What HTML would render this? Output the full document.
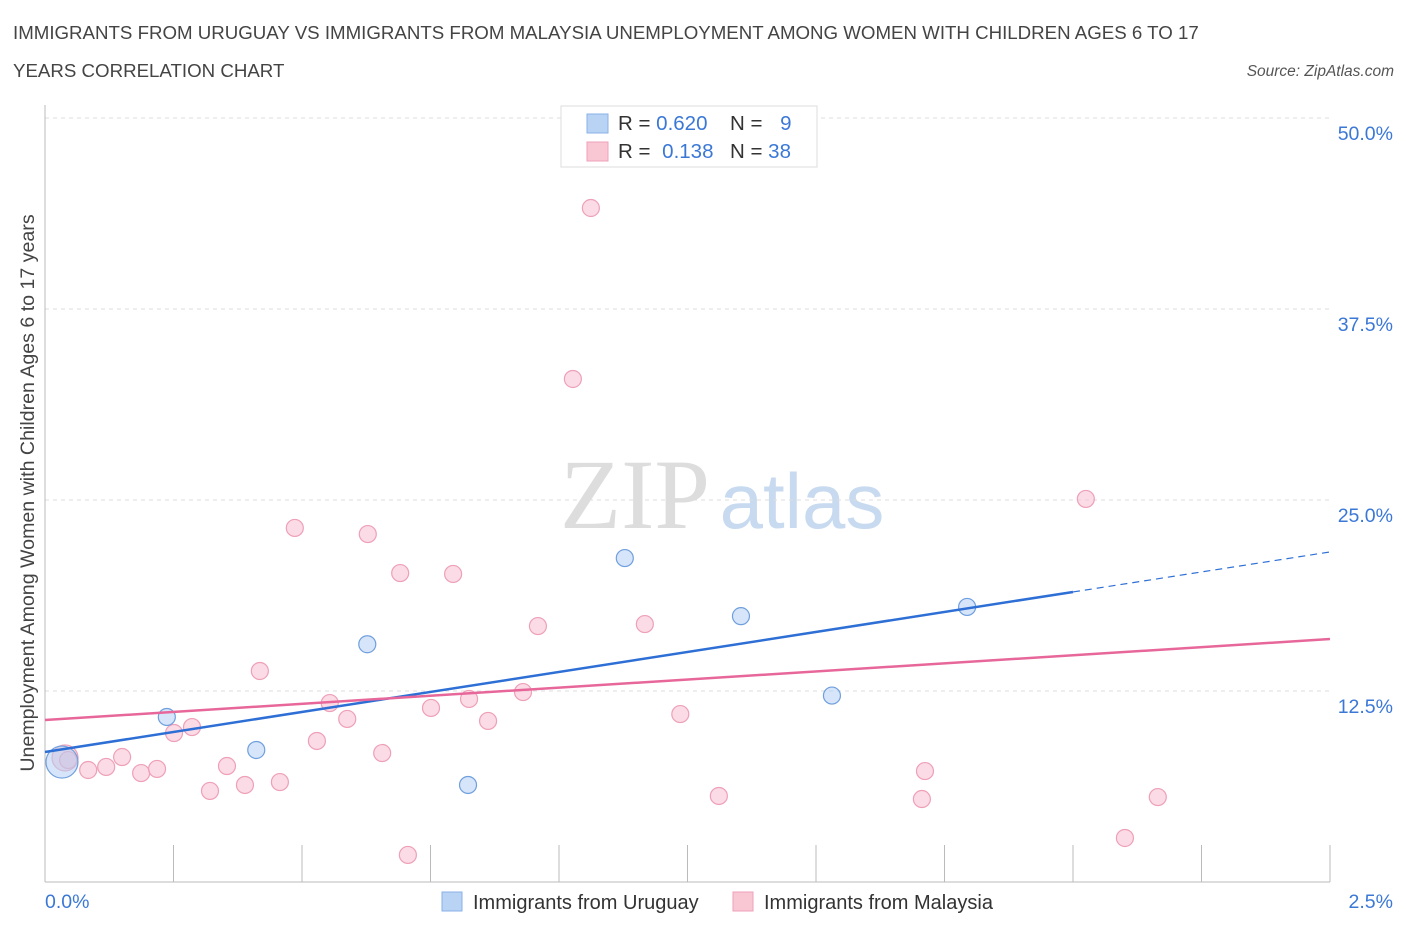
<!DOCTYPE html>
<html><head><meta charset="utf-8"><style>
body{margin:0;background:#fff;font-family:"Liberation Sans",sans-serif;}
</style></head><body>
<svg id="chart" width="1406" height="930" font-family="Liberation Sans, sans-serif">
<text x="13" y="39" font-size="18.7" fill="#444">IMMIGRANTS FROM URUGUAY VS IMMIGRANTS FROM MALAYSIA UNEMPLOYMENT AMONG WOMEN WITH CHILDREN AGES 6 TO 17</text>
<text x="13" y="77" font-size="18.7" fill="#444">YEARS CORRELATION CHART</text>
<text x="1394" y="76" font-size="15.5" fill="#555" font-style="italic" text-anchor="end">Source: ZipAtlas.com</text>
<text x="635" y="528" font-size="100" fill="#ddd" style="font-family:'Liberation Serif',serif" text-anchor="middle">ZIP</text>
<text x="802" y="528" font-size="78" fill="#c8daf0" text-anchor="middle">atlas</text>
<text transform="translate(34,493) rotate(-90)" font-size="19.6" fill="#444" text-anchor="middle">Unemployment Among Women with Children Ages 6 to 17 years</text>
<g id="grid"></g><g id="marks"></g>
<g>
<rect x="561" y="106" width="256" height="61" fill="#fff" stroke="#ddd"/>
<rect x="587" y="114" width="21" height="19" fill="#b9d3f5" stroke="#8ab2e8"/>
<rect x="587" y="142" width="21" height="19" fill="#f9c6d4" stroke="#eea0b8"/>
<text x="618" y="130" font-size="20.5" fill="#333">R = <tspan fill="#3b78d6">0.620</tspan></text>
<text x="730" y="130" font-size="20.5" fill="#333">N = <tspan fill="#3b78d6" dx="12">9</tspan></text>
<text x="618" y="158" font-size="20.5" fill="#333">R = <tspan fill="#3b78d6" dx="6">0.138</tspan></text>
<text x="730" y="158" font-size="20.5" fill="#333">N = <tspan fill="#3b78d6">38</tspan></text>
</g>
<g>
<rect x="442" y="892" width="20" height="19" fill="#b9d3f5" stroke="#8ab2e8"/>
<text x="473" y="909" font-size="20" fill="#333">Immigrants from Uruguay</text>
<rect x="733" y="892" width="20" height="19" fill="#f9c6d4" stroke="#eea0b8"/>
<text x="764" y="909" font-size="20" fill="#333">Immigrants from Malaysia</text>
</g>
<text x="45" y="908" font-size="19.5" fill="#3b78d6">0.0%</text>
<text x="1393" y="908" font-size="19.5" fill="#3b78d6" text-anchor="end">2.5%</text>
</svg>
<script>
const yTicks=[12.5,25,37.5,50];
const yTickLabels=["12.5%","25.0%","37.5%","50.0%"];
const blueX=[0.033,0.237,0.411,0.627,0.823,1.128,1.354,1.531,1.794];
const blueY=[7.85,10.8,8.64,15.56,6.35,21.2,17.4,12.2,18.0];
const pinkX=[0.039,0.045,0.084,0.119,0.150,0.187,0.218,0.251,0.286,0.321,0.354,0.389,0.418,0.457,0.486,0.529,0.554,0.588,0.628,0.656,0.691,0.706,0.751,0.794,0.825,0.862,0.930,0.959,1.027,1.062,1.167,1.236,1.311,1.706,1.712,2.025,2.101,2.165];
const pinkY=[8.12,7.98,7.33,7.53,8.18,7.13,7.40,9.75,10.14,5.96,7.59,6.35,13.81,6.54,23.17,9.23,11.71,10.67,22.77,8.44,20.22,1.77,11.39,20.16,11.98,10.54,12.43,16.75,32.92,44.11,16.88,10.99,5.63,5.43,7.26,25.07,2.88,5.56];
const blueTrend=[8.51,21.6];
const pinkTrend=[10.6,15.9];
const blueSolidEnd=2.0;
const NS="http://www.w3.org/2000/svg";
const X=v=>45+v*514, Y=v=>882-v*15.28;
function mk(t,a,p){const e=document.createElementNS(NS,t);for(const k in a)e.setAttribute(k,a[k]);p.appendChild(e);return e;}
const g=document.getElementById('grid'),m=document.getElementById('marks');
yTicks.forEach((t,i)=>{
 const l=mk('line',{x1:45,x2:1330,y1:Y(t),y2:Y(t),stroke:'#ddd','stroke-dasharray':'4,4'},g);
 
 
 const tx=mk('text',{x:1393,y:Y(t)+22,'font-size':19.5,fill:'#3b78d6','text-anchor':'end'},g);
 tx.textContent=yTickLabels[i];
 
 
});
mk('line',{x1:45,x2:45,y1:105,y2:882,stroke:'#bbb'},g);
mk('line',{x1:45,x2:1330,y1:882,y2:882,stroke:'#bbb'},g);
for(let i=0;i<=10;i++){const t=mk('line',{x1:X(i*0.25),x2:X(i*0.25),y1:845,y2:882,stroke:'#bbb'},g);
 
 }
function pt(x,y,r,f,s){const c=mk('circle',{cx:X(x),cy:Y(y),r:r,fill:f,stroke:s,'stroke-width':1.2},m);return c;}
pinkX.forEach((x,i)=>{const c=pt(x,pinkY[i],i==0?13:8.5,'rgba(248,190,208,0.55)','#eea0b8');
 
 });
blueX.forEach((x,i)=>{const c=pt(x,blueY[i],i==0?16:8.5,'rgba(180,208,244,0.55)','#6f9fdd');
 
 });
const bAt=x=>blueTrend[0]+(blueTrend[1]-blueTrend[0])*x/2.5;
let l=mk('line',{x1:X(0),y1:Y(bAt(0)),x2:X(blueSolidEnd),y2:Y(bAt(blueSolidEnd)),stroke:'#2e6fd6','stroke-width':2.5},m);


l=mk('line',{x1:X(blueSolidEnd),y1:Y(bAt(blueSolidEnd)),x2:X(2.5),y2:Y(bAt(2.5)),stroke:'#2e6fd6','stroke-width':1.2,'stroke-dasharray':'7,5'},m);


l=mk('line',{x1:X(0),y1:Y(pinkTrend[0]),x2:X(2.5),y2:Y(pinkTrend[1]),stroke:'#e8679a','stroke-width':2.5},m);


</script>
</body></html>
